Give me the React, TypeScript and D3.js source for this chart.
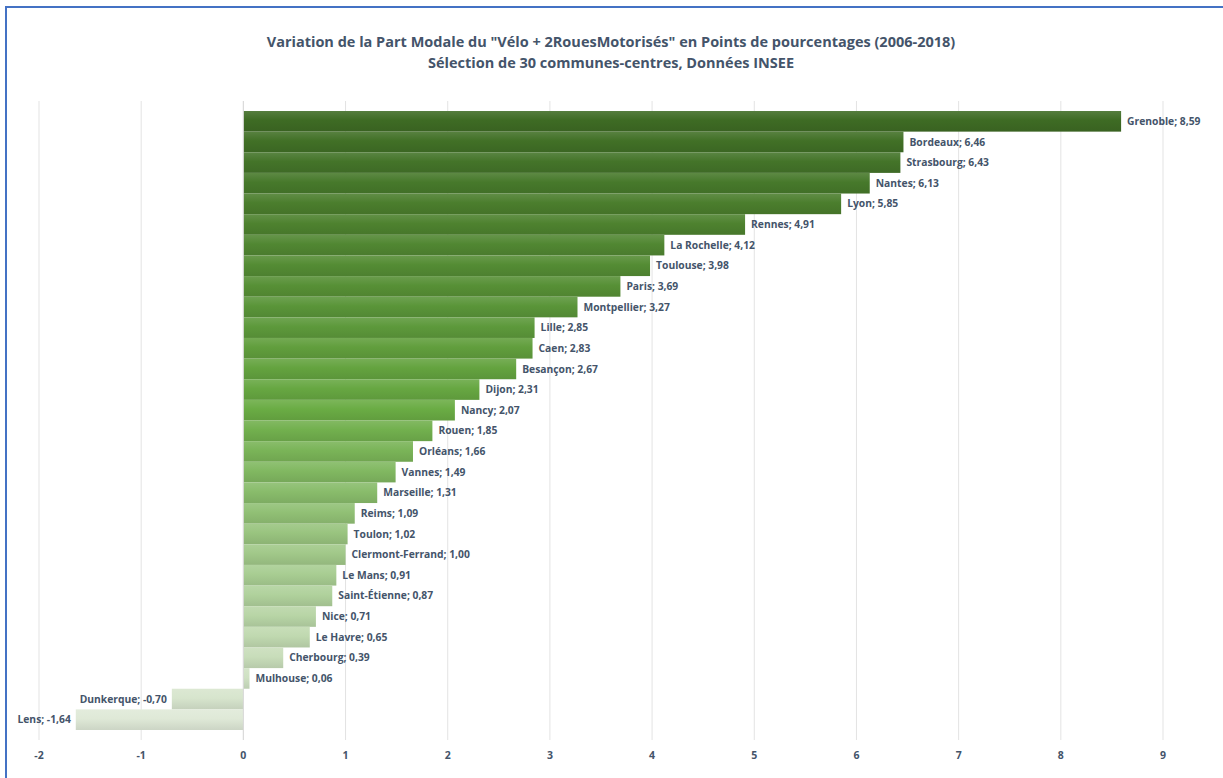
import { useRef, useEffect } from "react";
import * as d3 from "d3";

const cities = [
  "Grenoble", "Bordeaux", "Strasbourg", "Nantes", "Lyon", "Rennes", "La Rochelle",
  "Toulouse", "Paris", "Montpellier", "Lille", "Caen", "Besançon", "Dijon", "Nancy",
  "Rouen", "Orléans", "Vannes", "Marseille", "Reims", "Toulon", "Clermont-Ferrand",
  "Le Mans", "Saint-Étienne", "Nice", "Le Havre", "Cherbourg", "Mulhouse", "Dunkerque", "Lens",
];
const values = [
  8.59, 6.46, 6.43, 6.13, 5.85, 4.91, 4.12, 3.98, 3.69, 3.27, 2.85, 2.83, 2.67, 2.31, 2.07,
  1.85, 1.66, 1.49, 1.31, 1.09, 1.02, 1.0, 0.91, 0.87, 0.71, 0.65, 0.39, 0.06, -0.7, -1.64,
];
const ticks = [-2, -1, 0, 1, 2, 3, 4, 5, 6, 7, 8, 9];
const titleLines = [
  'Variation de la Part Modale du "Vélo + 2RouesMotorisés" en Points de pourcentages (2006-2018)',
  "Sélection de 30 communes-centres, Données INSEE",
];

function App() {
  const svgRef = useRef<SVGSVGElement>(null);

  useEffect(() => {
    const w = 1223;
    const h = 778;
    const svg = d3.select(svgRef.current).attr("width", w).attr("height", h);
    svg.selectAll("*").remove();

    const textColor = "#44546A";
    const font = "'Open Sans', sans-serif";

    // frame
    svg.append("rect").attr("width", w).attr("height", h).attr("fill", "#fff");
    svg
      .append("rect")
      .attr("x", 6)
      .attr("y", 7)
      .attr("width", w + 10)
      .attr("height", h + 10)
      .attr("fill", "none")
      .attr("stroke", "#4472C4")
      .attr("stroke-width", 2);

    // scales
    const x = d3.scaleLinear().domain([-2, 9]).range([39, 1163]);
    const y = d3.scaleBand().domain(cities).range([111, 730]).padding(0);
    const color = d3
      .scaleLinear<string>()
      .domain([0, 14, 29])
      .range(["#3E6B24", "#6AAC44", "#DFE9D7"]);

    // title
    svg
      .append("g")
      .selectAll("text")
      .data(titleLines)
      .join("text")
      .attr("x", 611)
      .attr("y", (d, i) => 47 + i * 21)
      .attr("text-anchor", "middle")
      .attr("fill", textColor)
      .style("font-family", font)
      .style("font-weight", "bold")
      .style("font-size", "14.5px")
      .text((d) => d);

    // gridlines
    svg
      .append("g")
      .selectAll("line")
      .data(ticks)
      .join("line")
      .attr("x1", (d) => x(d))
      .attr("x2", (d) => x(d))
      .attr("y1", 101)
      .attr("y2", 740)
      .attr("stroke", "#E3E3E3")
      .attr("stroke-width", 1);

    // gradients, lighter at the top of each bar
    const defs = svg.append("defs");
    cities.forEach((c, i) => {
      const base = d3.color(color(i))!;
      const g = defs
        .append("linearGradient")
        .attr("id", "g" + i)
        .attr("x1", 0)
        .attr("x2", 0)
        .attr("y1", 0)
        .attr("y2", 1);
      g.append("stop").attr("offset", "0%").attr("stop-color", d3.interpolateRgb(base, "#fff")(0.12));
      g.append("stop").attr("offset", "45%").attr("stop-color", base.formatHex());
      g.append("stop").attr("offset", "100%").attr("stop-color", base.darker(0.25).formatHex());
    });

    // bars
    svg
      .append("g")
      .selectAll("rect")
      .data(values)
      .join("rect")
      .attr("x", (d) => x(Math.min(0, d)))
      .attr("y", (d, i) => y(cities[i])!)
      .attr("width", (d) => Math.abs(x(d) - x(0)))
      .attr("height", y.bandwidth())
      .attr("fill", (d, i) => `url(#g${i})`);

    // zero line
    svg
      .append("line")
      .attr("x1", x(0))
      .attr("x2", x(0))
      .attr("y1", 101)
      .attr("y2", 740)
      .attr("stroke", "#D9D9D9");

    // data labels
    svg
      .append("g")
      .selectAll("text")
      .data(values)
      .join("text")
      .attr("x", (d) => (d < 0 ? x(d) - 5 : x(d) + 6))
      .attr("y", (d, i) => y(cities[i])! + y.bandwidth() / 2)
      .attr("dy", "0.35em")
      .attr("text-anchor", (d) => (d < 0 ? "end" : "start"))
      .attr("fill", textColor)
      .style("font-family", font)
      .style("font-weight", "bold")
      .style("font-size", "10.3px")
      .text((d, i) => `${cities[i]}; ${d.toFixed(2).replace(".", ",")}`);

    // tick labels
    svg
      .append("g")
      .selectAll("text")
      .data(ticks)
      .join("text")
      .attr("x", (d) => x(d))
      .attr("y", 755)
      .attr("dy", "0.35em")
      .attr("text-anchor", "middle")
      .attr("fill", textColor)
      .style("font-family", font)
      .style("font-weight", "bold")
      .style("font-size", "10.5px")
      .text((d) => d);
  }, []);

  return <svg ref={svgRef} style={{ position: "absolute", left: 0, top: 0 }}></svg>;
}

export default App;
